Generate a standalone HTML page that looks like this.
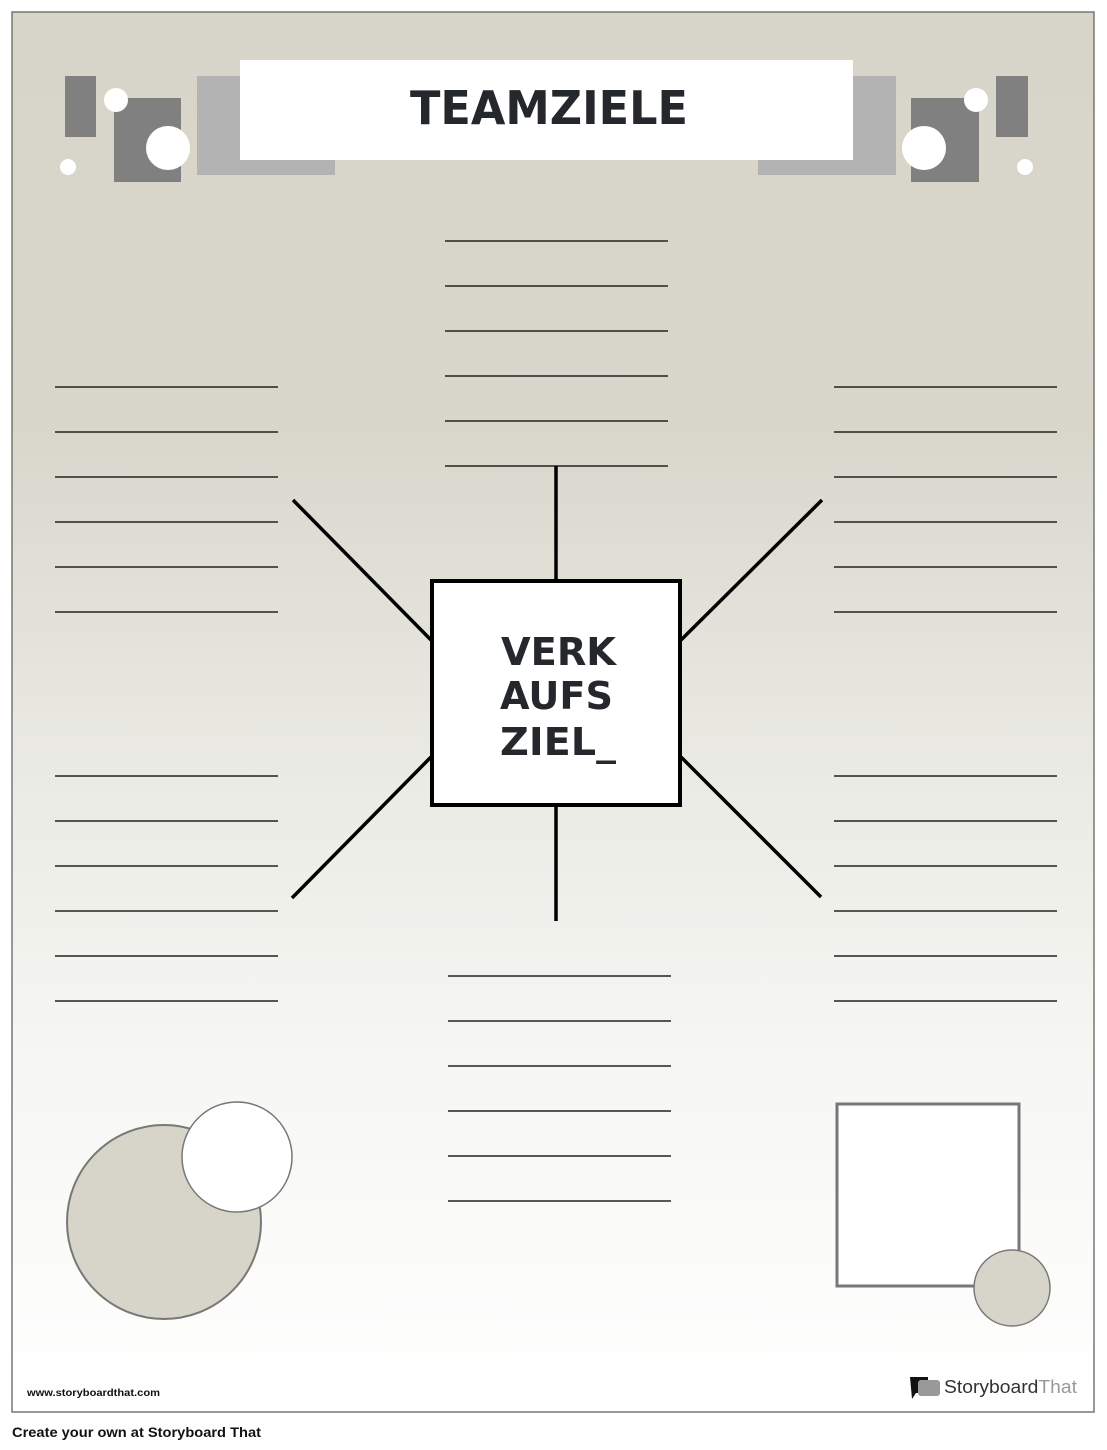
<!DOCTYPE html>
<html><head><meta charset="utf-8"><style>
html,body{margin:0;padding:0;background:#fff;width:1107px;height:1450px;overflow:hidden}
</style></head><body>
<svg width="1107" height="1450" viewBox="0 0 1107 1450" xmlns="http://www.w3.org/2000/svg">
<defs>
<linearGradient id="bg" x1="0" y1="0" x2="0" y2="1">
<stop offset="0" stop-color="#d7d5c9"/>
<stop offset="0.3" stop-color="#d9d7cc"/>
<stop offset="0.55" stop-color="#ebebe5"/>
<stop offset="0.75" stop-color="#f6f6f3"/>
<stop offset="1" stop-color="#ffffff"/>
</linearGradient>
</defs>
<rect x="12" y="12" width="1082" height="1400" fill="url(#bg)" stroke="#777" stroke-width="1.5"/>
<rect x="65" y="76" width="31" height="61" fill="#808080"/>
<rect x="114" y="98" width="67" height="84" fill="#808080"/>
<rect x="197" y="76" width="138" height="99" fill="#b3b3b3"/>
<circle cx="116" cy="100" r="12" fill="#fff"/>
<circle cx="168" cy="148" r="22" fill="#fff"/>
<circle cx="68" cy="167" r="8" fill="#fff"/>
<rect x="758" y="76" width="138" height="99" fill="#b3b3b3"/>
<rect x="911" y="98" width="68" height="84" fill="#808080"/>
<rect x="996" y="76" width="32" height="61" fill="#808080"/>
<circle cx="924" cy="148" r="22" fill="#fff"/>
<circle cx="976" cy="100" r="12" fill="#fff"/>
<circle cx="1025" cy="167" r="8" fill="#fff"/>
<rect x="240" y="60" width="613" height="100" fill="#fff"/>
<text x="410" y="124" font-family="DejaVu Sans, Liberation Sans, sans-serif" font-weight="bold" font-size="46" fill="#24272b" textLength="278" lengthAdjust="spacingAndGlyphs">TEAMZIELE</text>
<g stroke="#222" stroke-width="1.6">
<g id="c1">
<line x1="55" x2="278" y1="387" y2="387"/><line x1="55" x2="278" y1="432" y2="432"/><line x1="55" x2="278" y1="477" y2="477"/><line x1="55" x2="278" y1="522" y2="522"/><line x1="55" x2="278" y1="567" y2="567"/><line x1="55" x2="278" y1="612" y2="612"/>
</g>
<use href="#c1" x="0" y="389"/>
<use href="#c1" x="779" y="0"/>
<use href="#c1" x="779" y="389"/>
<use href="#c1" x="390" y="-146"/>
<use href="#c1" x="393" y="589"/>
</g>
<g stroke="#000" stroke-width="3.5">
<line x1="556" y1="466" x2="556" y2="580"/>
<line x1="556" y1="806" x2="556" y2="921"/>
<line x1="293" y1="500" x2="431" y2="640"/>
<line x1="681" y1="640" x2="822" y2="500"/>
<line x1="431" y1="757" x2="292" y2="898"/>
<line x1="681" y1="757" x2="821" y2="897"/>
</g>
<rect x="432" y="581" width="248" height="224" fill="#fff" stroke="#000" stroke-width="4"/>
<g font-family="DejaVu Sans, Liberation Sans, sans-serif" font-weight="bold" font-size="38" fill="#24272b">
<text x="501" y="665" textLength="115" lengthAdjust="spacingAndGlyphs">VERK</text>
<text x="500" y="709" textLength="113" lengthAdjust="spacingAndGlyphs">AUFS</text>
<text x="500" y="755" textLength="116" lengthAdjust="spacingAndGlyphs">ZIEL_</text>
</g>
<circle cx="164" cy="1222" r="97" fill="#d7d5c9" stroke="#777" stroke-width="2"/>
<circle cx="237" cy="1157" r="55" fill="#fff" stroke="#777" stroke-width="1.5"/>
<rect x="837" y="1104" width="182" height="182" fill="#fff" stroke="#777" stroke-width="3"/>
<circle cx="1012" cy="1288" r="38" fill="#d7d5c9" stroke="#777" stroke-width="1.5"/>
<text x="27" y="1396" font-family="Liberation Sans, sans-serif" font-weight="bold" font-size="10" fill="#111" textLength="133" lengthAdjust="spacingAndGlyphs">www.storyboardthat.com</text>
<path d="M910 1377h18v16h-12l-4 6z" fill="#111"/>
<rect x="918" y="1380" width="22" height="16" rx="3" fill="#999"/>
<text x="944" y="1393" font-family="Liberation Sans, sans-serif" font-size="18" fill="#333" textLength="133" lengthAdjust="spacingAndGlyphs">Storyboard<tspan fill="#999">That</tspan></text>
<text x="12" y="1437" font-family="Liberation Sans, sans-serif" font-weight="bold" font-size="14" fill="#111" textLength="249" lengthAdjust="spacingAndGlyphs">Create your own at Storyboard That</text>
</svg>
</body></html>
